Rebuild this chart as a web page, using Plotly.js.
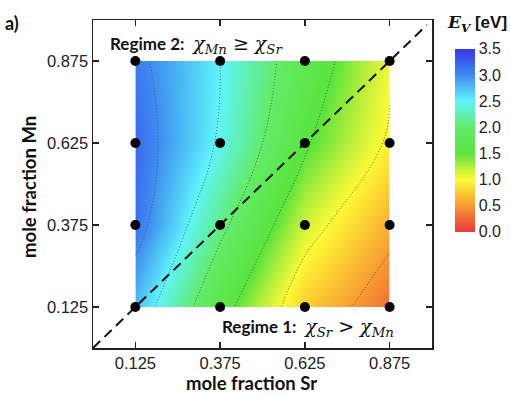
<!DOCTYPE html>
<html>
<head>
<meta charset="utf-8">
<script src="https://cdn.plot.ly/plotly-3.0.1.min.js"></script>
<style>
  html, body { margin: 0; padding: 0; background: #ffffff; }
  #chart { width: 511px; height: 395px; }
</style>
</head>
<body>
<div id="chart"></div>
<script>
// Composition grid (mole fractions) and vacancy formation energy E_V in eV
const sr = [0.125, 0.375, 0.625, 0.875];
const mn = [0.125, 0.375, 0.625, 0.875];
// rows follow mn (bottom to top), columns follow sr (left to right)
const ev = [
  [2.75, 1.65, 0.75, 0.30],
  [3.15, 2.10, 1.15, 0.60],
  [3.20, 2.45, 1.55, 0.95],
  [3.10, 2.50, 1.75, 1.05]
];
const tickVals = [0.125, 0.375, 0.625, 0.875];
const tickText = ['0.125', '0.375', '0.625', '0.875'];
const cbTicks = [0, 0.5, 1.0, 1.5, 2.0, 2.5, 3.0, 3.5];

// sample points: every grid node
const ptX = [], ptY = [];
mn.forEach(y => sr.forEach(x => { ptX.push(x); ptY.push(y); }));

const rainbow = [
  [0.000, '#e63a3a'],
  [0.071, '#f06636'],
  [0.143, '#f89a32'],
  [0.214, '#fccc32'],
  [0.286, '#fdfb36'],
  [0.357, '#b4ef3c'],
  [0.429, '#5ae43c'],
  [0.571, '#62ec6a'],
  [0.714, '#5ff4fb'],
  [0.857, '#3e8cf0'],
  [1.000, '#3535ee']
];

const sansFont = 'Liberation Sans, Arial, sans-serif';
const boldFont = { family: 'Lato, sans-serif', size: 18.5, color: '#111', weight: 'bold' };

const contour = {
  type: 'contour',
  x: sr, y: mn, z: ev,
  zmin: 0, zmax: 3.5,
  colorscale: rainbow,
  showscale: false,
  contours: { coloring: 'heatmap', showlines: true, start: 0.5, end: 3.0, size: 0.5 },
  line: { color: '#555555', width: 1, dash: '1px,2px', smoothing: 1.3 },
  hoverinfo: 'skip'
};

// colour bar: a plain continuous gradient for the E_V scale
const scaleKey = {
  type: 'scatter', mode: 'markers',
  x: [null, null], y: [null, null],
  marker: {
    color: [cbTicks[0], cbTicks[cbTicks.length - 1]],
    cmin: 0, cmax: 3.5, colorscale: rainbow, size: 1, showscale: true,
    colorbar: {
      x: 1.068, xanchor: 'left', xref: 'paper', xpad: 0, ypad: 0,
      y: 0.912, yanchor: 'top', len: 0.558, lenmode: 'fraction',
      thickness: 20, outlinewidth: 0,
      tickvals: cbTicks, ticktext: cbTicks.map(v => v.toFixed(1)),
      ticks: '', ticklabelpad: 5,
      tickfont: { family: sansFont, size: 16, color: '#222' }
    }
  },
  hoverinfo: 'skip', showlegend: false
};

const diagonal = {
  type: 'scatter', mode: 'lines',
  x: [0, 0.985], y: [0, 0.985],
  line: { color: '#111', width: 2, dash: '10px,6px' },
  hoverinfo: 'skip', showlegend: false
};

const points = {
  type: 'scatter', mode: 'markers',
  x: ptX, y: ptY,
  marker: { color: '#000', size: 10 },
  hoverinfo: 'skip', showlegend: false, cliponaxis: false
};

const serif = "font-family:'DejaVu Serif', serif; font-style:italic; font-weight:normal; font-size:19px";

const axisCommon = {
  range: [0, 1],
  tickvals: tickVals, ticktext: tickText,
  ticks: 'inside', ticklen: 6, tickwidth: 1.5, tickcolor: '#222',
  showline: true, linecolor: '#222', linewidth: 1.5, mirror: 'ticks',
  showgrid: false, zeroline: false,
  tickfont: { family: sansFont, size: 16.5, color: '#222' }
};

const layout = {
  width: 511, height: 395,
  margin: { l: 93, r: 79, t: 20, b: 47, autoexpand: false },
  paper_bgcolor: '#fff', plot_bgcolor: '#fff',
  showlegend: false,
  xaxis: Object.assign({}, axisCommon),
  yaxis: Object.assign({}, axisCommon),
  annotations: [
    {
      // x-axis title
      xref: 'paper', yref: 'paper', x: 0.467, y: -0.108, xanchor: 'center', yanchor: 'middle',
      showarrow: false, text: '<b>mole fraction Sr</b>', font: boldFont
    },
    {
      // y-axis title
      xref: 'paper', yref: 'paper', x: -0.187, y: 0.49, xanchor: 'center', yanchor: 'middle',
      showarrow: false, textangle: -90, text: '<b>mole fraction Mn</b>', font: boldFont
    },
    {
      xref: 'paper', yref: 'paper', x: 0.044, y: 0.925, xanchor: 'left', yanchor: 'middle',
      showarrow: false,
      text: "<b>Regime 2:</b>  <span style=\"" + serif + "\">χ<sub>Mn</sub> ≥ χ<sub>Sr</sub></span>",
      font: { family: 'Lato, sans-serif', size: 17, color: '#111' }
    },
    {
      xref: 'paper', yref: 'paper', x: 0.376, y: 0.062, xanchor: 'left', yanchor: 'middle',
      showarrow: false,
      text: "<b>Regime 1:</b>  <span style=\"" + serif + "\">χ<sub>Sr</sub> > χ<sub>Mn</sub></span>",
      font: { family: 'Lato, sans-serif', size: 17, color: '#111' }
    },
    {
      xref: 'paper', yref: 'paper', x: -0.24, y: 0.99, xanchor: 'center', yanchor: 'middle',
      showarrow: false, text: '<b>a)</b>',
      font: { family: 'Lato, sans-serif', size: 18, color: '#111' }
    },
    {
      xref: 'paper', yref: 'paper', x: 1.133, y: 0.99, xanchor: 'center', yanchor: 'middle',
      showarrow: false,
      text: "<span style=\"font-family:'DejaVu Serif', serif; font-style:italic; font-weight:bold\">E<sub>V</sub></span> <b>[eV]</b>",
      font: { family: sansFont, size: 17, color: '#111' }
    }
  ]
};

Plotly.newPlot('chart', [contour, scaleKey, diagonal, points], layout, { displayModeBar: false, staticPlot: true });
</script>
</body>
</html>
